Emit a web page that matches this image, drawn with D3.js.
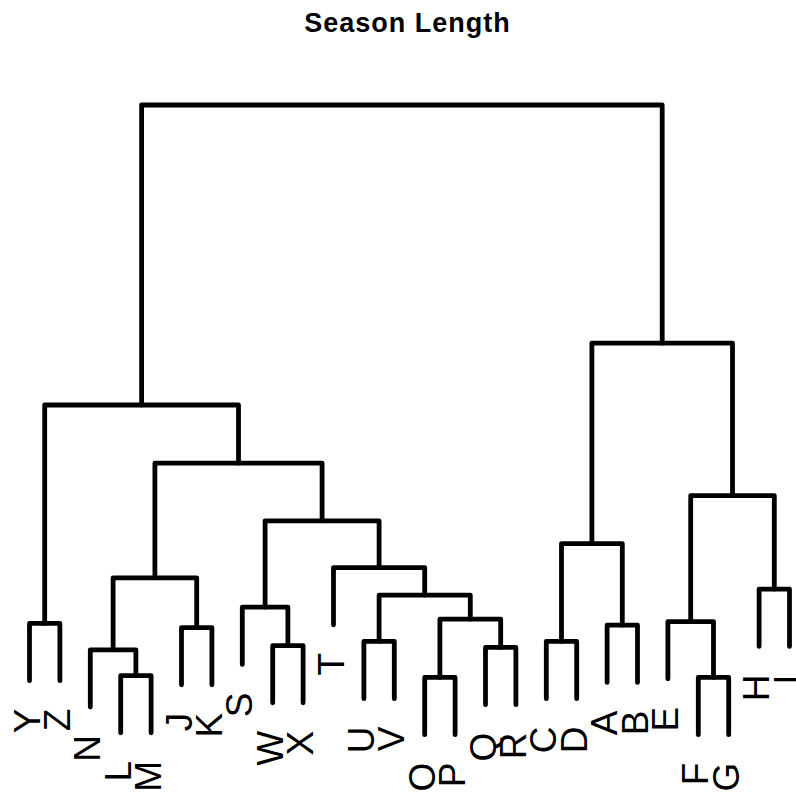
<!DOCTYPE html>
<html>
<head>
<meta charset="utf-8">
<script src="https://cdn.jsdelivr.net/npm/d3@7"></script>
<style>
  html, body { margin: 0; padding: 0; background: #fff; }
  svg { display: block; }
</style>
</head>
<body>
<script>
// Leaf order along the bottom of the dendrogram
const leafOrder = ["Y","Z","N","L","M","J","K","S","W","X","T","U","V","O","P","Q","R","C","D","A","B","E","F","G","H","I"];

// Agglomeration steps: a leaf label, or "#k" for the cluster formed at step k
const mergeLeft   = ["O","F","L","N","Q","W","U","C","J","A","Y","E","#1","S","#7","H","#4","T","#8","#14","#12","#17","#11","#19","#23"];
const mergeRight  = ["P","G","M","#3","R","X","V","D","K","B","Z","#2","#5","#6","#13","I","#9","#15","#10","#18","#16","#20","#22","#21","#24"];
const mergeHeight = [0.96,0.96,0.99,1.42,1.46,1.49,1.56,1.56,1.79,1.83,1.86,1.89,1.93,2.13,2.33,2.43,2.62,2.79,3.19,3.57,3.99,4.53,5.50,6.53,10.50];

const titleText = "Season Length";

const W = 796, H = 796;
const svg = d3.select("body").append("svg").attr("width", W).attr("height", H);

const x = d3.scaleLinear().domain([0, leafOrder.length - 1]).range([29.5, 789.5]);
const y = d3.scaleLinear().domain([0, 10.5]).range([735, 105]);

// leaves hang 10% of the height range below their parent merge
const hang = 0.1 * (d3.max(mergeHeight) - d3.min(mergeHeight));

const merges = mergeHeight.map(h => ({ h }));
function nodeOf(ref) {
  if (ref.startsWith("#")) {
    const m = merges[+ref.slice(1) - 1];
    return { leaf: false, x: m.x, h: m.h };
  }
  return { leaf: true, label: ref, x: x(leafOrder.indexOf(ref)) };
}

const links = [];
const leaves = [];
mergeHeight.forEach((h, i) => {
  const a = nodeOf(mergeLeft[i]);
  const b = nodeOf(mergeRight[i]);
  merges[i].x = (a.x + b.x) / 2;
  [a, b].forEach(n => {
    if (n.leaf) { n.h = h - hang; leaves.push(n); }
  });
  links.push({ a, b, h });
});

const g = svg.append("g");
g.selectAll("path.link")
  .data(links)
  .join("path")
  .attr("class", "link")
  .attr("d", d => `M${d.a.x},${y(d.a.h)}V${y(d.h)}H${d.b.x}V${y(d.b.h)}`)
  .attr("fill", "none")
  .attr("stroke", "#000")
  .attr("stroke-width", 4.8)
  .attr("stroke-linecap", "round")
  .attr("stroke-linejoin", "round");

g.selectAll("text.leaf")
  .data(leaves)
  .join("text")
  .attr("class", "leaf")
  .attr("transform", d => `translate(${d.x + 10},${y(d.h) + 28}) rotate(-90)`)
  .attr("text-anchor", "end")
  .attr("font-family", "'Liberation Sans', Arial, sans-serif")
  .attr("font-size", 37)
  .attr("fill", "#000")
  .text(d => d.label);

svg.append("text")
  .attr("x", 407.5)
  .attr("y", 32)
  .attr("text-anchor", "middle")
  .attr("font-family", "'Liberation Sans', Arial, sans-serif")
  .attr("font-weight", "bold")
  .attr("font-size", 27)
  .attr("letter-spacing", 1)
  .attr("fill", "#000")
  .text(titleText);
</script>
</body>
</html>
